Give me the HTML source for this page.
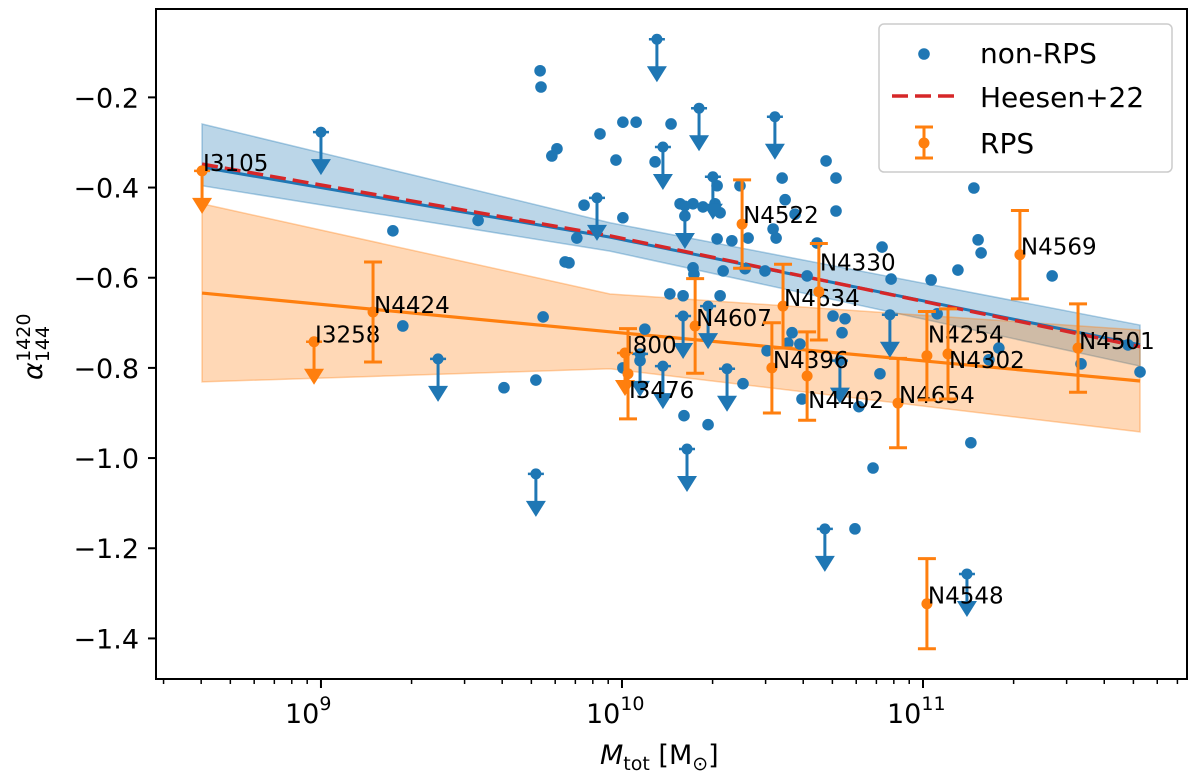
<!DOCTYPE html>
<html><head><meta charset="utf-8"><style>
html,body{margin:0;padding:0;background:#fff;}
svg{display:block;font-family:"DejaVu Sans","Liberation Sans",sans-serif;}
</style></head><body>
<svg id="chart" width="1200" height="783" viewBox="0 0 1200 783" xmlns="http://www.w3.org/2000/svg">
<rect width="1200" height="783" fill="#fff"/>
<g id="bands"></g>
<g id="lines"></g>
<g id="blue"></g>
<g id="orange"></g>
<g id="axes"></g>
<g id="legend"></g>
</svg>
<script>
// ---- data ----
const blueLogM = [9.728,9.731,9.927,9.784,9.767,9.522,9.239,9.874,9.850,9.811,9.824,9.738,9.272,9.608,9.714,10.003,10.047,10.163,9.980,10.110,10.003,10.532,10.678,10.711,10.711,10.392,10.316,10.542,10.575,10.502,10.512,10.316,10.365,10.419,10.193,10.236,10.269,10.309,10.326,10.209,10.864,10.894,10.648,10.236,10.239,10.336,10.409,10.475,10.615,10.159,10.203,10.326,10.701,10.741,10.731,10.565,10.482,10.551,10.591,10.076,10.003,10.060,10.402,10.598,10.787,10.857,10.206,10.286,10.834,11.169,11.183,11.193,11.116,11.027,11.429,11.047,11.252,11.219,11.525,11.681,11.721,11.159,10.774];
const blueAlpha = [-0.141,-0.177,-0.281,-0.314,-0.330,-0.473,-0.496,-0.439,-0.512,-0.565,-0.567,-0.687,-0.707,-0.844,-0.827,-0.255,-0.255,-0.259,-0.339,-0.343,-0.467,-0.379,-0.341,-0.379,-0.452,-0.396,-0.396,-0.427,-0.459,-0.492,-0.512,-0.514,-0.518,-0.512,-0.436,-0.436,-0.443,-0.436,-0.456,-0.463,-0.532,-0.603,-0.523,-0.578,-0.592,-0.585,-0.580,-0.585,-0.596,-0.636,-0.640,-0.640,-0.685,-0.691,-0.722,-0.722,-0.762,-0.745,-0.747,-0.714,-0.800,-0.784,-0.835,-0.869,-0.886,-0.813,-0.906,-0.926,-1.022,-0.401,-0.516,-0.545,-0.583,-0.605,-0.596,-0.680,-0.756,-0.782,-0.791,-0.749,-0.809,-0.966,-1.157];
const blueLimLogM = [9.0,9.389,9.714,9.917,10.116,10.256,10.508,10.136,10.302,10.209,10.890,10.203,10.724,10.136,10.349,10.216,10.060,10.286,10.674,11.146];
const blueLimAlpha = [-0.277,-0.780,-1.035,-0.423,-0.071,-0.224,-0.243,-0.310,-0.376,-0.441,-0.682,-0.685,-0.784,-0.796,-0.802,-0.980,-0.769,-0.663,-1.157,-1.257];
const rpsNames = ["I3105","I3258","N4424","I800","I3476","N4607","N4522","N4396","N4634","N4330","N4402","N4654","N4254","N4302","N4569","N4501","N4548"];
const rpsLogM = [8.605,8.977,9.173,10.010,10.020,10.243,10.399,10.498,10.535,10.654,10.615,10.917,11.013,11.083,11.322,11.515,11.013];
const rpsAlpha = [-0.363,-0.742,-0.676,-0.767,-0.813,-0.707,-0.481,-0.800,-0.663,-0.631,-0.818,-0.878,-0.773,-0.769,-0.549,-0.756,-1.323];
const rpsErr = [0,0,0.111,0,0.100,0.105,0.098,0.100,0.093,0.107,0.098,0.099,0.098,0.100,0.098,0.098,0.100];
const rpsIsLimit = [1,1,0,1,0,0,0,0,0,0,0,0,0,0,0,0,0];
const fitLogM = [8.605,9.960,11.721];
const blueFit = [-0.355,-0.510,-0.749];
const blueBandHi = [-0.259,-0.478,-0.705];
const blueBandLo = [-0.396,-0.541,-0.796];
const heesenFit = [-0.348,-0.507,-0.753];
const rpsFit = [-0.634,-0.720,-0.829];
const rpsBandHi = [-0.436,-0.636,-0.716];
const rpsBandLo = [-0.831,-0.802,-0.942];
const yTicks = [-0.2,-0.4,-0.6,-0.8,-1.0,-1.2,-1.4];
const xMajor = [9,10,11];
// label offsets (pixels, annotation placement)
const labelDy = [0,1,1,0,24,0,-1,0,0,-21,32,0,-13,14,0,1,0];

// ---- axes funcs ----
const L=156,R=1187,T=9,B=679;
const xMin=8.452,xMax=11.877,yMin=-1.490,yMax=-0.004;
const X=lx=>L+(lx-xMin)/(xMax-xMin)*(R-L);
const Y=v=>B-(v-yMin)/(yMax-yMin)*(B-T);
const NS="http://www.w3.org/2000/svg";
function mk(tag,attrs,parent){const e=document.createElementNS(NS,tag);for(const k in attrs)e.setAttribute(k,attrs[k]);parent.appendChild(e);return e;}
const BLUE="#1f77b4",ORANGE="#ff7f0e",RED="#d62728";

// bands
const gB=document.getElementById('bands');
function band(hi,lo,col,name){
  let pts=fitLogM.map((m,i)=>X(m)+','+Y(hi[i]));
  pts=pts.concat(fitLogM.map((m,i)=>X(m)+','+Y(lo[i])).reverse());
  const p=mk('polygon',{points:pts.join(' '),fill:col,'fill-opacity':0.3,stroke:col,'stroke-opacity':0.35,'stroke-width':1.5},gB);
  
  
}
band(blueBandHi,blueBandLo,BLUE,'non-rps-confidence-band');
band(rpsBandHi,rpsBandLo,ORANGE,'rps-confidence-band');

// lines
const gL=document.getElementById('lines');
function line(vals,col,dash,w,name){
  const p=mk('polyline',{points:fitLogM.map((m,i)=>X(m)+','+Y(vals[i])).join(' '),fill:'none',stroke:col,'stroke-width':w},gL);
  if(dash)p.setAttribute('stroke-dasharray',dash);
  
  
}
line(blueFit,BLUE,null,3,'non-rps-fit-line');
line(rpsFit,ORANGE,null,3.2,'rps-fit-line');
line(heesenFit,RED,'16,7',3.5,'heesen22-line');

// limit arrow
function arrow(g,x,y,col,name){
  const a=mk('g',{},g);
  
  
  mk('line',{x1:x-8,x2:x+8,y1:y,y2:y,stroke:col,'stroke-width':2.5},a);
  mk('line',{x1:x,x2:x,y1:y,y2:y+30,stroke:col,'stroke-width':3},a);
  mk('polygon',{points:`${x-10},${y+27} ${x+10},${y+27} ${x},${y+43}`,fill:col},a);
  mk('circle',{cx:x,cy:y,r:5.5,fill:col},a);
}
// blue
const gBl=document.getElementById('blue');
blueLogM.forEach((m,i)=>{
  const c=mk('circle',{cx:X(m),cy:Y(blueAlpha[i]),r:5.8,fill:BLUE},gBl);
  
  
});
blueLimLogM.forEach((m,i)=>arrow(gBl,X(m),Y(blueLimAlpha[i]),BLUE,'non-rps-upper-limit'));

// orange
const gO=document.getElementById('orange');
rpsLogM.forEach((m,i)=>{
  const x=X(m),y=Y(rpsAlpha[i]);
  if(rpsIsLimit[i]){arrow(gO,x,y,ORANGE,'rps-upper-limit');}
  else{
    const g=mk('g',{},gO);
    
    
    const y1=Y(rpsAlpha[i]+rpsErr[i]),y2=Y(rpsAlpha[i]-rpsErr[i]);
    mk('line',{x1:x,x2:x,y1:y1,y2:y2,stroke:ORANGE,'stroke-width':3},g);
    mk('line',{x1:x-9,x2:x+9,y1:y1,y2:y1,stroke:ORANGE,'stroke-width':3},g);
    mk('line',{x1:x-9,x2:x+9,y1:y2,y2:y2,stroke:ORANGE,'stroke-width':3},g);
    mk('circle',{cx:x,cy:y,r:5.5,fill:ORANGE},g);
  }
  const t=mk('text',{x:x+1,y:y+labelDy[i],'font-size':23,fill:'#000'},gO);
  t.textContent=rpsNames[i];
  
  
});

// axes
const gA=document.getElementById('axes');
const fr=mk('rect',{x:L,y:T,width:R-L,height:B-T,fill:'none',stroke:'#000','stroke-width':2},gA);


yTicks.forEach(v=>{
  const y=Y(v);
  mk('line',{x1:L-8,x2:L,y1:y,y2:y,stroke:'#000','stroke-width':2},gA);
  const t=mk('text',{x:L-17,y:y+10,'font-size':27,'text-anchor':'end',fill:'#000'},gA);
  t.textContent='\u2212'+Math.abs(v).toFixed(1);
  
  
});
for(let d=8;d<=11;d++){for(let k=2;k<=9;k++){const lx=d+Math.log10(k);if(lx<xMin||lx>xMax)continue;
  mk('line',{x1:X(lx),x2:X(lx),y1:B,y2:B+5,stroke:'#000','stroke-width':1.5},gA);}}
xMajor.forEach(e=>{
  const x=X(e);
  mk('line',{x1:x,x2:x,y1:B,y2:B+9,stroke:'#000','stroke-width':2},gA);
  const t=mk('text',{x:x-36,y:723,'font-size':27,fill:'#000'},gA);
  t.textContent='10';
  const s=mk('tspan',{dy:-13,'font-size':19},t);
  s.textContent=e;
  
  
});
const xl=mk('text',{x:600,y:764,'font-size':27,fill:'#000'},gA);
xl.innerHTML='<tspan font-style="italic">M</tspan><tspan font-size="19" dy="6">tot</tspan><tspan dy="-6"> [M</tspan><tspan font-size="19" dy="6">\u2299</tspan><tspan dy="-6">]</tspan>';


const yl=mk('text',{transform:'translate(42,380) rotate(-90)','font-size':27,fill:'#000'},gA);
yl.innerHTML='<tspan font-style="italic">\u03b1</tspan><tspan font-size="19" dy="7">144</tspan><tspan font-size="19" dx="-36" dy="-19">1420</tspan>';



// legend
const gLg=document.getElementById('legend');
const lb=mk('rect',{x:879,y:24,width:293,height:148,rx:5,fill:'#fff','fill-opacity':0.8,stroke:'#ccc','stroke-width':1.5},gLg);


const e1=mk('g',{},gLg);


mk('circle',{cx:924,cy:54,r:5.8,fill:BLUE},e1);
mk('text',{x:980,y:63,'font-size':28,fill:'#000'},e1).textContent='non-RPS';
const e2=mk('g',{},gLg);


mk('line',{x1:892,x2:954,y1:96,y2:96,stroke:RED,'stroke-width':3.5,'stroke-dasharray':'16,7'},e2);
mk('text',{x:980,y:107,'font-size':28,fill:'#000'},e2).textContent='Heesen+22';
const e3=mk('g',{},gLg);


mk('line',{x1:924,x2:924,y1:127,y2:158,stroke:ORANGE,'stroke-width':3},e3);
mk('line',{x1:915,x2:933,y1:127,y2:127,stroke:ORANGE,'stroke-width':3},e3);
mk('line',{x1:915,x2:933,y1:158,y2:158,stroke:ORANGE,'stroke-width':3},e3);
mk('circle',{cx:924,cy:143,r:5.5,fill:ORANGE},e3);
mk('text',{x:980,y:153,'font-size':28,fill:'#000'},e3).textContent='RPS';
</script>
</body></html>
